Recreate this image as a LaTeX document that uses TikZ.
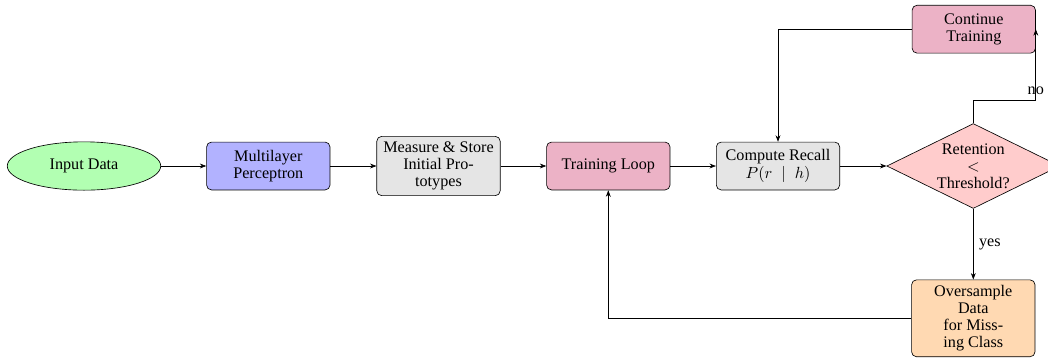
\documentclass[tikz,border=0pt]{standalone}
\usepackage[no-math]{fontspec}
\setmainfont{Liberation Serif}
\usetikzlibrary{shapes.geometric,arrows.meta}
\begin{document}
\begin{tikzpicture}[x=0.6185pt,y=-0.6185pt,
  base/.style={draw=black, line width=0.4pt, font=\fontsize{10}{10.6}\selectfont, align=center},
  box/.style={base, rectangle, rounded corners=3pt, minimum width=76.3pt, minimum height=29.6pt, inner sep=3.33pt},
  startnode/.style={base, ellipse, fill=green!30, minimum width=94.9pt, minimum height=29.9pt, inner sep=0pt},
  decisionnode/.style={base, diamond, fill=red!20, aspect=2, inner sep=0pt, minimum width=107pt, minimum height=52.5pt},
  arr/.style={-{Stealth[length=4pt,width=3pt]}, line width=0.4pt},
  lab/.style={font=\fontsize{10}{10.6}\selectfont}
]
\useasboundingbox (0,0) rectangle (1048,358);
\node[startnode] (input) at (84,166) {Input Data};
\node[box, fill=blue!30] (mlp) at (268.3,166) {Multilayer\\Perceptron};
\node[box, fill=gray!20] (measure) at (438.5,166) {Measure \& Store\\Initial Pro-\\totypes};
\node[box, fill=purple!30] (train) at (608.3,166) {Training Loop};
\node[box, fill=gray!20] (recall) at (778,166) {Compute Recall\\[1pt]$P(r\;\mid\;h)$};
\node[decisionnode] (decision) at (973.3,166) {Retention\\$<$\\Threshold?};
\node[box, fill=purple!30] (continue) at (973.8,29.2) {Continue\\Training};
\node[box, fill=orange!30] (over) at (973.3,318.3) {Oversample\\Data\\for Miss-\\ing Class};

\draw[arr] (input) -- (mlp);
\draw[arr] (mlp) -- (measure);
\draw[arr] (measure) -- (train);
\draw[arr] (train) -- (recall);
\draw[arr] (recall) -- (decision);
\draw[arr] (decision.north) -- ++(0,-23) -| node[lab, above] {no} (continue.east);
\draw[arr] (continue.west) -| (recall.north);
\draw[arr] (decision.south) -- node[lab, right] {yes} (over.north);
\draw[arr] (over.west) -| (train.south);
\end{tikzpicture}
\end{document}
